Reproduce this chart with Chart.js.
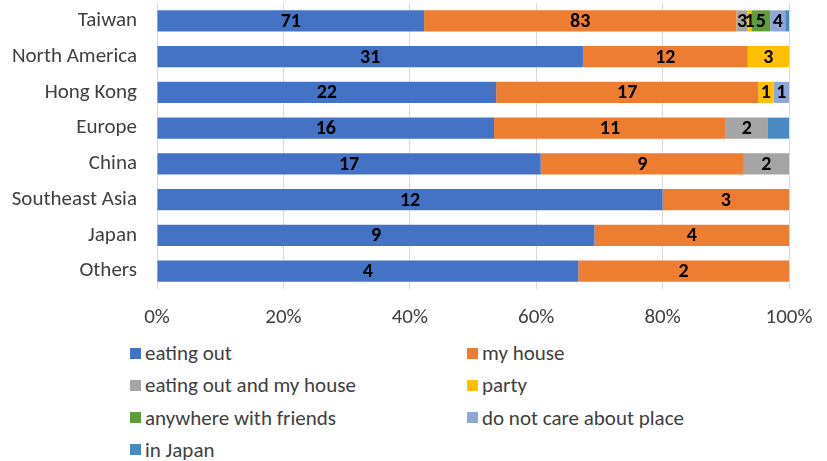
<!DOCTYPE html>
<html>
<head>
<meta charset="utf-8">
<script src="https://cdn.jsdelivr.net/npm/chart.js@4/dist/chart.umd.min.js"></script>
<style>
    body { margin: 0; background: #fff; font-family: Carlito, Calibri, Lato, sans-serif; }
    #wrap { position: relative; width: 827px; height: 461px; }
    #placeChart { position: absolute; left: 0; top: 0; }
    #legend { position: absolute; left: 130px; top: 341px; width: 680px; }
    .item { position: absolute; display: flex; align-items: center; font-size: 21px; line-height: 24px; color: #404040; white-space: nowrap; }
    .box { width: 11px; height: 11px; margin-right: 4px; }
</style>
</head>
<body>
<div id="wrap">
    <canvas id="placeChart" width="827" height="335"></canvas>
    <div id="legend"></div>
</div>
<script>
const regions = ['Taiwan', 'North America', 'Hong Kong', 'Europe', 'China', 'Southeast Asia', 'Japan', 'Others'];

const eatingOut      = [71, 31, 22, 16, 17, 12, 9, 4];
const myHouse        = [83, 12, 17, 11, 9, 3, 4, 2];
const eatingAndHouse = [3, 0, 0, 2, 2, 0, 0, 0];
const party          = [1, 3, 1, 0, 0, 0, 0, 0];
const withFriends    = [5, 0, 0, 0, 0, 0, 0, 0];
const anyPlace       = [4, 0, 1, 0, 0, 0, 0, 0];
const inJapan        = [1, 0, 0, 1, 0, 0, 0, 0];

const xTicks = [0, 20, 40, 60, 80, 100];

const series = [
    { label: 'eating out', counts: eatingOut, color: '#4472C4', showValue: true },
    { label: 'my house', counts: myHouse, color: '#ED7D31', showValue: true },
    { label: 'eating out and my house', counts: eatingAndHouse, color: '#A5A5A5', showValue: true },
    { label: 'party', counts: party, color: '#FFC000', showValue: true },
    { label: 'anywhere with friends', counts: withFriends, color: '#5F9C3C', showValue: true },
    { label: 'do not care about place', counts: anyPlace, color: '#8FA6D8', showValue: true },
    { label: 'in Japan', counts: inJapan, color: '#4A89C2', showValue: false }
];

// row totals so every bar fills 100%
const totals = regions.map((_, i) => series.reduce((s, d) => s + d.counts[i], 0));

const FONT = 'Carlito, Calibri, Lato, sans-serif';

// writes the raw count in the middle of each segment
const segmentValues = {
    id: 'segmentValues',
    afterDatasetsDraw(chart) {
        const ctx = chart.ctx;
        ctx.save();
        ctx.font = 'bold 20px ' + FONT;
        ctx.fillStyle = '#000';
        ctx.textAlign = 'center';
        ctx.textBaseline = 'middle';
        chart.data.datasets.forEach((ds, di) => {
            if (!ds.showValue) return;
            chart.getDatasetMeta(di).data.forEach((bar, i) => {
                const v = ds.counts[i];
                if (!v) return;
                const cx = (bar.x + bar.base) / 2;
                ctx.fillText(String(v), cx, bar.y + 1);
            });
        });
        ctx.restore();
    }
};

const ctx = document.getElementById('placeChart').getContext('2d');
const chart = new Chart(ctx, {
    type: 'bar',
    data: {
        labels: regions,
        datasets: series.map(s => ({
            label: s.label,
            data: s.counts.map((c, i) => c / totals[i] * 100),
            counts: s.counts,
            showValue: s.showValue,
            backgroundColor: s.color,
            borderWidth: 0,
            barPercentage: 0.59,
            categoryPercentage: 1
        }))
    },
    options: {
        indexAxis: 'y',
        responsive: false,
        animation: false,
        layout: { padding: { left: 10, right: 38, top: 3, bottom: 0 } },
        plugins: {
            legend: { display: false },
            tooltip: { enabled: false }
        },
        scales: {
            x: {
                stacked: true,
                min: 0,
                max: 100,
                afterBuildTicks: scale => { scale.ticks = xTicks.map(v => ({ value: v })); },
                grid: { color: '#D9D9D9', drawTicks: false },
                border: { display: false },
                ticks: {
                    padding: 16,
                    color: '#404040',
                    font: { family: FONT, size: 21 },
                    callback: v => v + '%'
                },
                afterFit: scale => {
                    scale.height = 46;
                    scale.paddingLeft = 0;
                    scale.paddingRight = 0;
                }
            },
            y: {
                stacked: true,
                // tick marks hidden, their length only spaces the labels off the axis
                grid: { display: false, drawTicks: true, tickLength: 20 },
                border: { display: false },
                ticks: {
                    padding: 0,
                    color: '#404040',
                    font: { family: FONT, size: 21 }
                },
                afterFit: scale => {
                    scale.width = 147;
                    scale.paddingTop = 0;
                    scale.paddingBottom = 0;
                }
            }
        }
    },
    plugins: [segmentValues]
});

// two-column legend under the plot
const legend = document.getElementById('legend');
series.forEach((s, i) => {
    const item = document.createElement('div');
    item.className = 'item';
    item.style.left = (i % 2 ? 337 : 0) + 'px';
    item.style.top = (Math.floor(i / 2) * 32.3) + 'px';
    item.innerHTML = '<span class="box" style="background:' + s.color + '"></span>' + s.label;
    legend.appendChild(item);
});
</script>
</body>
</html>
